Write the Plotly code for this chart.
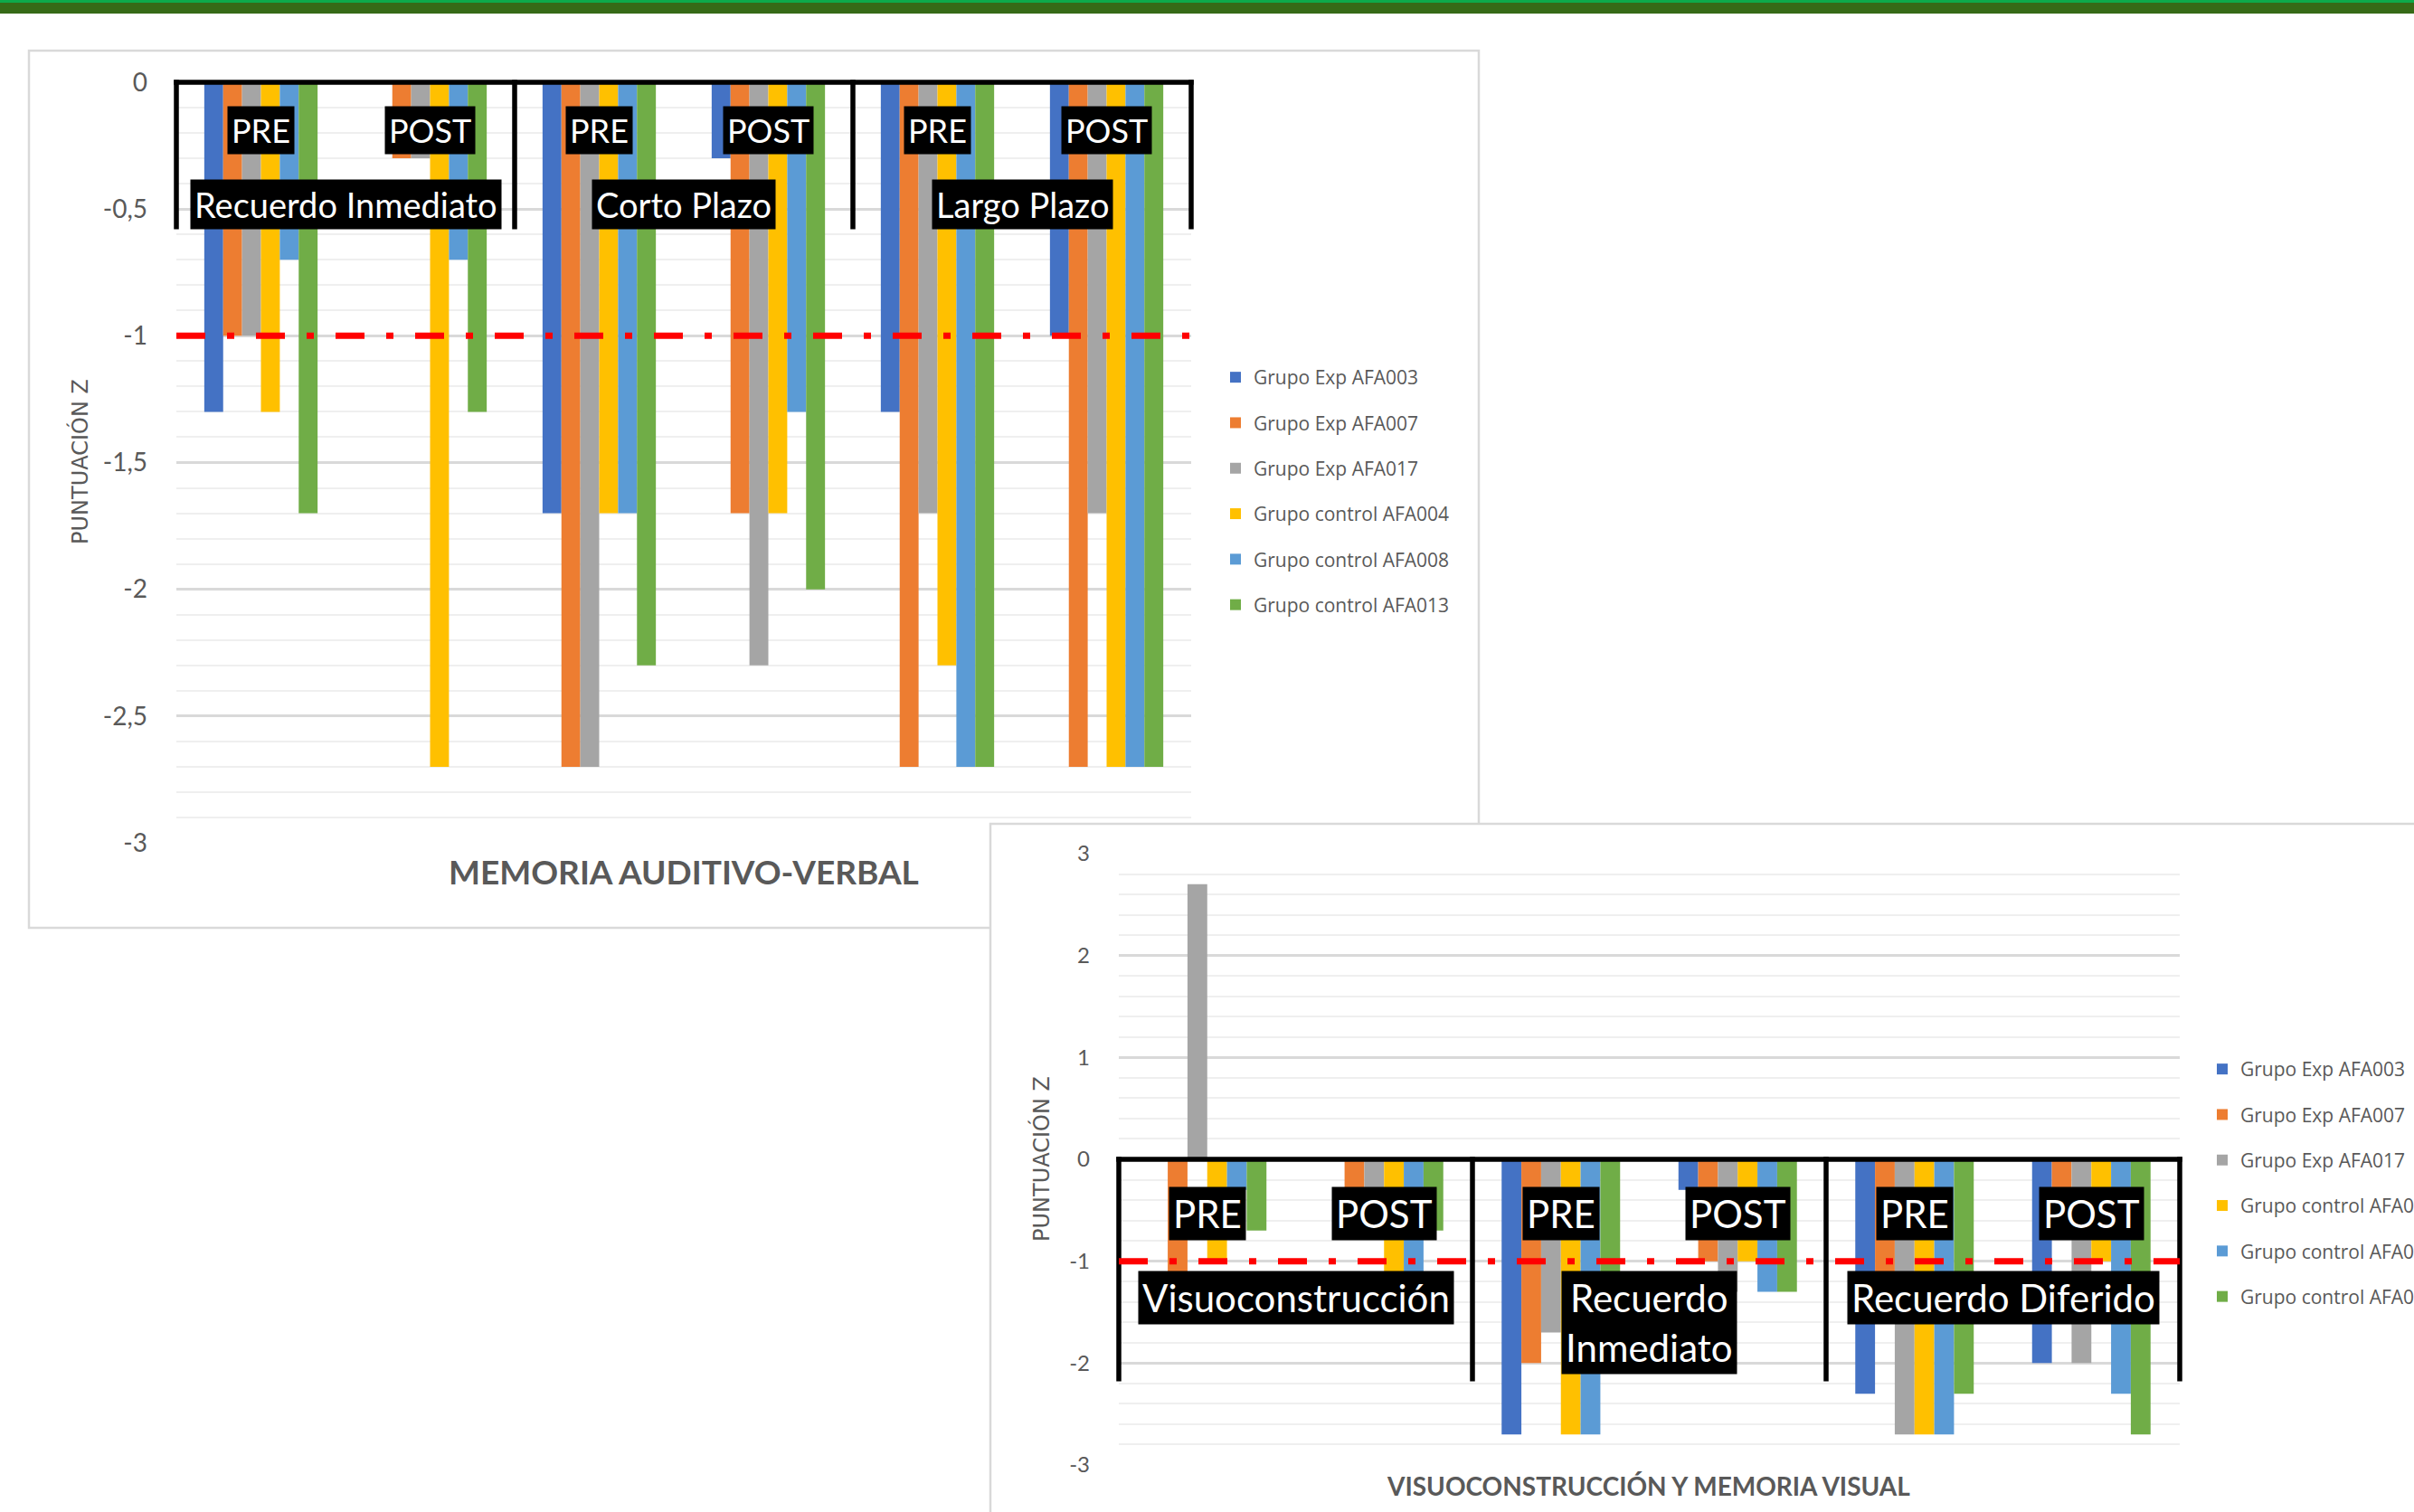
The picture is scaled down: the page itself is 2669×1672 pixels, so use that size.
import plotly.graph_objects as go

W, H = 2669, 1672

# ---------------------------------------------------------------- data
SERIES = ["Grupo Exp AFA003", "Grupo Exp AFA007", "Grupo Exp AFA017",
          "Grupo control AFA004", "Grupo control AFA008", "Grupo control AFA013"]
COLORS = ["#4472C4", "#ED7D31", "#A5A5A5", "#FFC000", "#5B9BD5", "#70AD47"]
PHASES = ["PRE", "POST"]
THRESHOLD = -1.0

# Memoria auditivo-verbal (PRE/POST for each test)
VERBAL_TESTS = ["Recuerdo Inmediato", "Corto Plazo", "Largo Plazo"]
VERBAL_AFA003 = [-1.3, 0.0, -1.7, -0.3, -1.3, -1.0]
VERBAL_AFA007 = [-1.0, -0.3, -2.7, -1.7, -2.7, -2.7]
VERBAL_AFA017 = [-1.0, -0.3, -2.7, -2.3, -1.7, -1.7]
VERBAL_AFA004 = [-1.3, -2.7, -1.7, -1.7, -2.3, -2.7]
VERBAL_AFA008 = [-0.7, -0.7, -1.7, -1.3, -2.7, -2.7]
VERBAL_AFA013 = [-1.7, -1.3, -2.3, -2.0, -2.7, -2.7]
VERBAL_TICKS = [0, -0.5, -1, -1.5, -2, -2.5, -3]
VERBAL_TICK_TEXT = ["0", "-0,5", "-1", "-1,5", "-2", "-2,5", "-3"]

# Visuoconstrucción y memoria visual (PRE/POST for each test)
VISUAL_TESTS = ["Visuoconstrucción", "Recuerdo Inmediato", "Recuerdo Diferido"]
VISUAL_TEST_LABELS = ["Visuoconstrucción", "Recuerdo<br>Inmediato", "Recuerdo Diferido"]
VISUAL_AFA003 = [0.0, 0.0, -2.7, -0.3, -2.3, -2.0]
VISUAL_AFA007 = [-1.3, -0.3, -2.0, -1.0, -1.3, -0.7]
VISUAL_AFA017 = [2.7, -0.3, -1.7, -1.3, -2.7, -2.0]
VISUAL_AFA004 = [-1.0, -1.3, -2.7, -1.0, -2.7, -1.0]
VISUAL_AFA008 = [-0.3, -1.3, -2.7, -1.3, -2.7, -2.3]
VISUAL_AFA013 = [-0.7, -0.7, -1.7, -1.3, -2.3, -2.7]
VISUAL_TICKS = [3, 2, 1, 0, -1, -2, -3]
VISUAL_TICK_TEXT = ["3", "2", "1", "0", "-1", "-2", "-3"]

VERBAL_VALUES = [VERBAL_AFA003, VERBAL_AFA007, VERBAL_AFA017,
                 VERBAL_AFA004, VERBAL_AFA008, VERBAL_AFA013]
VISUAL_VALUES = [VISUAL_AFA003, VISUAL_AFA007, VISUAL_AFA017,
                 VISUAL_AFA004, VISUAL_AFA008, VISUAL_AFA013]

verbal_cats = [f"{t} {p}" for t in VERBAL_TESTS for p in PHASES]
visual_cats = [f"{t} {p}" for t in VISUAL_TESTS for p in PHASES]

# ---------------------------------------------------------------- styling
CALIBRI = "Lato, Carlito, Calibri, sans-serif"
LEGEND_FONT = "Open Sans, Noto Sans, sans-serif"
TITLE_Y_FONT = "DejaVu Sans, sans-serif"
GREY_TEXT = "#595959"
MAJOR_GRID = "#D9D9D9"
MINOR_GRID = "#EFEFEF"
FRAME = "#D9D9D9"


def px_x(p):
    return p / W


def px_y(p):
    return 1 - p / H


def frac(v, lo, hi):
    return (v - lo) / (hi - lo)


V_RANGE = (-3.0, 0.0)
S_RANGE = (-3.0, 3.0)

fig = go.Figure()

# chart 1 bars
for name, color, vals in zip(SERIES, COLORS, VERBAL_VALUES):
    fig.add_trace(go.Bar(x=verbal_cats, y=vals, name=name, marker_color=color,
                         marker_line_width=0, xaxis="x", yaxis="y",
                         legend="legend", legendgroup=name))

# empty panel subplot that sits between the two charts
fig.add_trace(go.Scatter(x=[], y=[], xaxis="x2", yaxis="y2",
                         showlegend=False, hoverinfo="skip"))

# chart 2 bars
for name, color, vals in zip(SERIES, COLORS, VISUAL_VALUES):
    fig.add_trace(go.Bar(x=visual_cats, y=vals, name=name, marker_color=color,
                         marker_line_width=0, xaxis="x3", yaxis="y3",
                         legend="legend2", legendgroup=name))

hidden_x = dict(showticklabels=False, showgrid=False, zeroline=False,
                showline=False, ticks="", fixedrange=True)


def value_axis(dom, rng, tickvals, ticktext, minor_step, tick_size, standoff):
    return dict(domain=dom, range=list(rng), tickmode="array", tickvals=tickvals,
                ticktext=ticktext, showgrid=True, gridcolor=MAJOR_GRID, gridwidth=2.5,
                minor=dict(dtick=minor_step, tick0=0, showgrid=True,
                           gridcolor=MINOR_GRID, gridwidth=2),
                zeroline=False, showline=False, ticks="",
                ticklabelstandoff=standoff,
                tickfont=dict(family=CALIBRI, size=tick_size, color=GREY_TEXT),
                fixedrange=True)


# pixel geometry of the two plot areas
C1 = dict(l=195, r=1317, t=91, b=932)
C2 = dict(l=1237, r=2410, t=944, b=1620)

fig.update_layout(
    width=W, height=H,
    margin=dict(l=0, r=0, t=0, b=0, autoexpand=False),
    paper_bgcolor="white", plot_bgcolor="rgba(0,0,0,0)",
    barmode="group", bargap=0.33, bargroupgap=0,
    xaxis=dict(domain=[px_x(C1["l"]), px_x(C1["r"])], anchor="y", type="category",
               range=[-0.5, 5.5], **hidden_x),
    yaxis=dict(anchor="x", **value_axis([px_y(C1["b"]), px_y(C1["t"])], V_RANGE,
                                        VERBAL_TICKS, VERBAL_TICK_TEXT, 0.1, 28, 31)),
    xaxis2=dict(domain=[px_x(1086), 1], anchor="y2", range=[1086, W], **hidden_x),
    yaxis2=dict(domain=[0, px_y(903)], anchor="x2", range=[H, 903],
                showticklabels=False, showgrid=False, zeroline=False, ticks="",
                fixedrange=True),
    xaxis3=dict(domain=[px_x(C2["l"]), px_x(C2["r"])], anchor="y3", type="category",
                range=[-0.5, 5.5], **hidden_x),
    yaxis3=dict(anchor="x3", **value_axis([px_y(C2["b"]), px_y(C2["t"])], S_RANGE,
                                          VISUAL_TICKS, VISUAL_TICK_TEXT, 0.2, 24, 31)),
    legend=dict(x=px_x(1346), y=px_y(397), xanchor="left", yanchor="top",
                font=dict(family=LEGEND_FONT, size=21, color=GREY_TEXT),
                tracegroupgap=20, bgcolor="rgba(0,0,0,0)", traceorder="grouped"),
    legend2=dict(x=px_x(2437), y=px_y(1162), xanchor="left", yanchor="top",
                 font=dict(family=LEGEND_FONT, size=21, color=GREY_TEXT),
                 tracegroupgap=20, bgcolor="rgba(0,0,0,0)", traceorder="grouped"),
    showlegend=True,
)

shapes = []
# title bar along the top of the page
shapes.append(dict(type="rect", xref="paper", yref="paper", x0=0, x1=1,
                   y0=px_y(15), y1=1, fillcolor="#366A17", line_width=0, layer="below"))
shapes.append(dict(type="rect", xref="paper", yref="paper", x0=0, x1=1,
                   y0=px_y(3), y1=1, fillcolor="#0DAA4B", line_width=0, layer="below"))
# frame of the first chart
shapes.append(dict(type="rect", xref="paper", yref="paper",
                   x0=px_x(32), x1=px_x(1635), y0=px_y(1026), y1=px_y(56),
                   fillcolor="rgba(0,0,0,0)", line=dict(color=FRAME, width=2.5),
                   layer="below"))
# panel of the second chart, laid over the first one
shapes.append(dict(type="rect", xref="x2", yref="y2", x0=1095, x1=2700,
                   y0=911, y1=1700, fillcolor="white",
                   line=dict(color=FRAME, width=2.5), layer="below"))


def bracket(xa, ya, rng, depth, plot_w, plot_h):
    """Black bracket from y=0 down to `depth`, split at each test boundary."""
    out = []
    y_top = frac(0, *rng)
    y_bot = frac(depth, *rng)
    lw = 5.5
    ext = lw / 2 / plot_h
    out.append(dict(type="line", xref=f"{xa} domain", yref=f"{ya} domain",
                    x0=-lw / 2 / plot_w, x1=1 + lw / 2 / plot_w, y0=y_top, y1=y_top,
                    line=dict(color="black", width=lw), layer="above"))
    for k in range(4):
        xf = k / 3
        out.append(dict(type="line", xref=f"{xa} domain", yref=f"{ya} domain",
                        x0=xf, x1=xf, y0=y_top + ext, y1=y_bot,
                        line=dict(color="black", width=lw), layer="above"))
    return out


def threshold_line(xa, ya):
    return dict(type="line", xref=f"{xa} domain", yref=ya, x0=0, x1=1,
                y0=THRESHOLD, y1=THRESHOLD,
                line=dict(color="#FF0000", width=7, dash="32px,24px,8px,24px"),
                layer="above")


shapes += bracket("x", "y", V_RANGE, -0.58, C1["r"] - C1["l"], C1["b"] - C1["t"])
shapes += bracket("x3", "y3", S_RANGE, -2.18, C2["r"] - C2["l"], C2["b"] - C2["t"])
shapes.append(threshold_line("x", "y"))
shapes.append(threshold_line("x3", "y3"))
fig.update_layout(shapes=shapes)

ann = []


def label(xa, ya, x, y, text, size, yanchor="middle"):
    return dict(xref=xa, yref=ya, x=x, y=y, text=text, showarrow=False,
                font=dict(family=CALIBRI, size=size, color="white"),
                bgcolor="black", borderpad=4, xanchor="center", yanchor=yanchor)


for i, cat in enumerate(verbal_cats):
    ann.append(label("x", "y", i, -0.19, PHASES[i % 2], 36))
for j, t in enumerate(VERBAL_TESTS):
    ann.append(label("x", "y", 2 * j + 0.5, -0.48, t, 38))

for i, cat in enumerate(visual_cats):
    ann.append(label("x3", "y3", i, -0.53, PHASES[i % 2], 42))
for j, t in enumerate(VISUAL_TEST_LABELS):
    ann.append(label("x3", "y3", 2 * j + 0.5, -1.09, t, 42, yanchor="top"))

# axis titles
ann.append(dict(xref="paper", yref="paper", x=px_x(88), y=px_y(511),
                text="PUNTUACIÓN Z", textangle=-90, showarrow=False,
                font=dict(family=TITLE_Y_FONT, size=24, color=GREY_TEXT),
                xanchor="center", yanchor="middle"))
ann.append(dict(xref="paper", yref="paper", x=px_x(1151), y=px_y(1282),
                text="PUNTUACIÓN Z", textangle=-90, showarrow=False,
                font=dict(family=TITLE_Y_FONT, size=24, color=GREY_TEXT),
                xanchor="center", yanchor="middle"))
ann.append(dict(xref="paper", yref="paper", x=px_x(756), y=px_y(963),
                text="<b>MEMORIA AUDITIVO-VERBAL</b>", showarrow=False,
                font=dict(family=CALIBRI, size=37, color=GREY_TEXT),
                xanchor="center", yanchor="middle"))
ann.append(dict(xref="paper", yref="paper", x=px_x(1822), y=px_y(1643),
                text="<b>VISUOCONSTRUCCIÓN Y MEMORIA VISUAL</b>", showarrow=False,
                font=dict(family=CALIBRI, size=28, color=GREY_TEXT),
                xanchor="center", yanchor="middle"))

fig.update_layout(annotations=ann)

fig.write_html("out.html")
